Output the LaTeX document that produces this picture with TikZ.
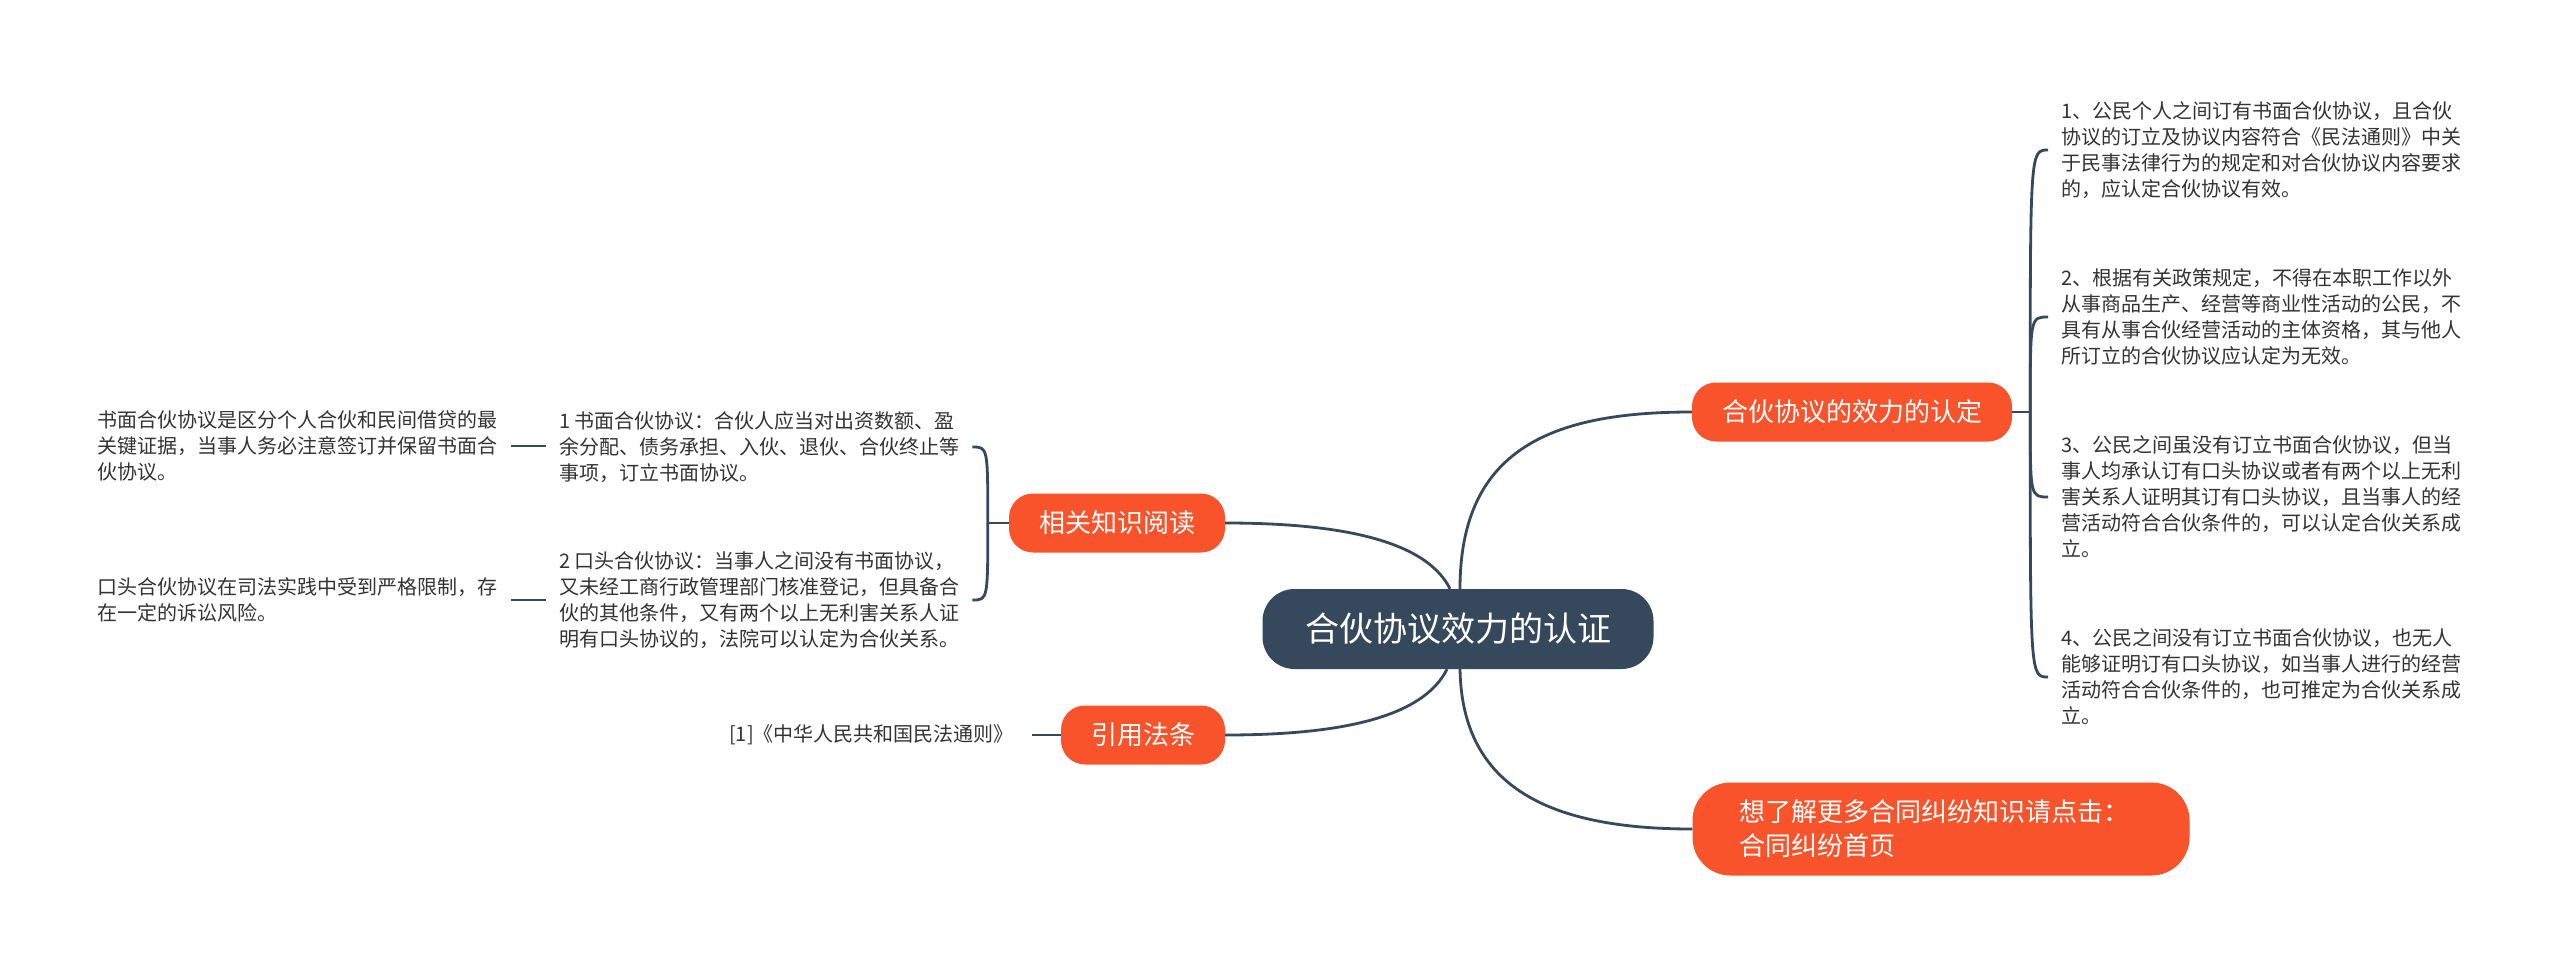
\documentclass[tikz,border=0pt]{standalone}
\usepackage{fontspec}
\setmainfont{Noto Sans CJK SC}
\usepackage{tikz}
\definecolor{topicred}{HTML}{F8532B}
\definecolor{rootblue}{HTML}{36495C}
\definecolor{leafgray}{HTML}{333333}
\tikzstyle{mainbox} = [fill=rootblue, text=white, rectangle, rounded corners=32pt, minimum width=391pt, minimum height=80pt, font=\fontsize{34}{40}\selectfont]
\tikzstyle{topicbox} = [fill=topicred, text=white, rectangle, rounded corners=24pt, minimum height=59pt, font=\fontsize{26}{34}\selectfont]
\tikzstyle{leaftext} = [anchor=west, align=left, inner sep=0pt, text=leafgray, font=\fontsize{20}{26}\selectfont]
\tikzstyle{branchline} = [draw=rootblue, line width=2.8pt]

\begin{document}
\begin{tikzpicture}[x=1pt, y=-1pt]
\useasboundingbox[fill=white] (0,0) rectangle (2560,963);

\node [mainbox] (root) at (1458,629) {合伙协议效力的认证};

\node [topicbox, minimum width=320pt] (effect) at (1852,412) {合伙协议的效力的认定};
\node [topicbox, minimum width=216pt] (read) at (1117,523) {相关知识阅读};
\node [topicbox, minimum width=164pt] (law) at (1143,735) {引用法条};
\node [topicbox, rounded corners=38pt, align=left, text width=403pt, inner xsep=47pt, minimum height=93pt] (more) at (1941,829) {想了解更多合同纠纷知识请点击：\\合同纠纷首页};

% right leaves
\node [leaftext] (r1) at (2061,150) {1、公民个人之间订有书面合伙协议，且合伙\\协议的订立及协议内容符合《民法通则》中关\\于民事法律行为的规定和对合伙协议内容要求\\的，应认定合伙协议有效。};
\node [leaftext] (r2) at (2061,317) {2、根据有关政策规定，不得在本职工作以外\\从事商品生产、经营等商业性活动的公民，不\\具有从事合伙经营活动的主体资格，其与他人\\所订立的合伙协议应认定为无效。};
\node [leaftext] (r3) at (2061,497) {3、公民之间虽没有订立书面合伙协议，但当\\事人均承认订有口头协议或者有两个以上无利\\害关系人证明其订有口头协议，且当事人的经\\营活动符合合伙条件的，可以认定合伙关系成\\立。};
\node [leaftext] (r4) at (2061,677) {4、公民之间没有订立书面合伙协议，也无人\\能够证明订有口头协议，如当事人进行的经营\\活动符合合伙条件的，也可推定为合伙关系成\\立。};

% left leaves
\node [leaftext] (m1) at (559,447) {1 书面合伙协议：合伙人应当对出资数额、盈\\余分配、债务承担、入伙、退伙、合伙终止等\\事项，订立书面协议。};
\node [leaftext] (m2) at (559,600) {2 口头合伙协议：当事人之间没有书面协议，\\又未经工商行政管理部门核准登记，但具备合\\伙的其他条件，又有两个以上无利害关系人证\\明有口头协议的，法院可以认定为合伙关系。};
\node [leaftext] (l1) at (97,446) {书面合伙协议是区分个人合伙和民间借贷的最\\关键证据，当事人务必注意签订并保留书面合\\伙协议。};
\node [leaftext] (l2) at (97,600) {口头合伙协议在司法实践中受到严格限制，存\\在一定的诉讼风险。};
\node [leaftext] (cite) at (729,735) {[1]《中华人民共和国民法通则》};

% connectors from the root
\draw [branchline] ([xshift=2pt]root.north) .. controls +(0,-140) and +(-140,0) .. (effect.west);
\draw [branchline] ([xshift=-8pt]root.north) .. controls +(-25,-50) and +(110,0) .. (read.east);
\draw [branchline] ([xshift=-11pt]root.south) .. controls +(-25,50) and +(110,0) .. (law.east);
\draw [branchline] ([xshift=2pt]root.south) .. controls +(2,120) and +(-140,0) .. (more.west);

% brackets
\coordinate (rb) at ([xshift=18pt]effect.east);
\draw [branchline] (effect.east) -- (rb);
\foreach \n in {r1,r2,r3,r4}
    \draw [branchline] (rb) .. controls (rb |- \n.west) .. ([xshift=-13pt]\n.west);
\coordinate (lb) at ([xshift=-21pt]read.west);
\draw [branchline] (read.west) -- (lb);
\foreach \n in {m1,m2}
    \draw [branchline] (lb) .. controls (lb |- \n.east) .. ([xshift=13pt]\n.east);

\draw [branchline] ([xshift=14pt]l1.east) -- ([xshift=-13pt]l1.east -| m1.west);
\draw [branchline] ([xshift=14pt]l2.east) -- ([xshift=-13pt]l2.east -| m2.west);
\draw [branchline] ([xshift=18pt]cite.east) -- (law.west);
\end{tikzpicture}
\end{document}
